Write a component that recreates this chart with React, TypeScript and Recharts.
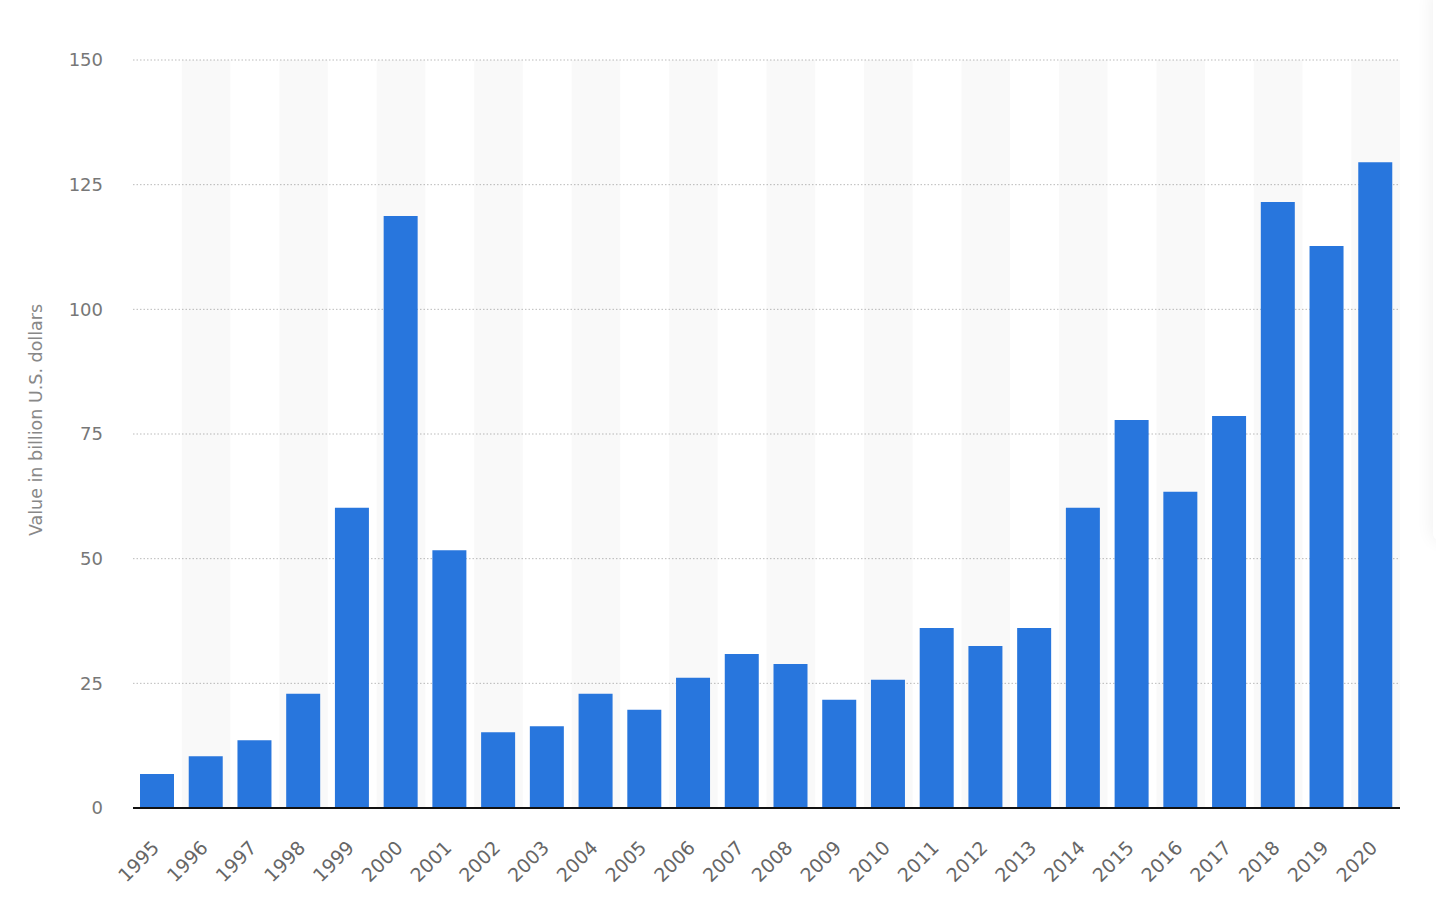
import React from 'react';
import { BarChart, Bar, XAxis, YAxis, CartesianGrid, ReferenceArea } from 'recharts';

const years = ['1995','1996','1997','1998','1999','2000','2001','2002','2003','2004','2005','2006','2007','2008','2009','2010','2011','2012','2013','2014','2015','2016','2017','2018','2019','2020'];
const values = [6.8,10.4,13.6,22.9,60.2,118.7,51.7,15.2,16.4,22.9,19.7,26.1,30.9,28.9,21.7,25.7,36.1,32.5,36.1,60.2,77.8,63.4,78.6,121.5,112.7,129.5];
const yTicks = [0, 25, 50, 75, 100, 125, 150];
const yLabel = 'Value in billion U.S. dollars';

const data = years.map((year, i) => ({ year, value: values[i] }));
const stripeYears = years.filter((_, i) => i % 2 === 1);

const FONT = '"DejaVu Sans", sans-serif';

const XTick = (props: any) => {
  const { x, y, payload } = props;
  return (
    <g transform={`translate(${x + 3},${y + 41})`}>
      <text x={0} y={0} textAnchor="end" transform="rotate(-45)" fill="#666" fontSize={19} fontFamily={FONT}>
        {payload.value}
      </text>
    </g>
  );
};

export default function App() {
  return (
    <div style={{ position: 'absolute', left: 0, top: 0, width: 1436, height: 916, background: '#fff', overflow: 'hidden' }}>
      <BarChart
        width={1437}
        height={916}
        data={data}
        margin={{ top: 60, right: 37, bottom: 0, left: 1 }}
        barSize={34}
      >
        {stripeYears.map((yr) => (
          <ReferenceArea key={yr} x1={yr} x2={yr} fill="#000" fillOpacity={0.022} stroke="none" ifOverflow="hidden" />
        ))}
        <CartesianGrid vertical={false} stroke="#bbb" strokeDasharray="1.5 2" />
        <XAxis
          dataKey="year"
          interval={0}
          height={108}
          tickLine={false}
          tickSize={0}
          tickMargin={0}
          axisLine={{ stroke: '#111', strokeWidth: 2 }}
          tick={<XTick />}
        />
        <YAxis
          width={132}
          domain={[0, 150]}
          ticks={yTicks}
          interval={0}
          axisLine={false}
          tickLine={false}
          tickMargin={24}
          tick={{ fill: '#777', fontSize: 18, fontFamily: FONT }}
          label={{ value: yLabel, angle: -90, position: 'insideLeft', dx: 30, dy: -14, fill: '#888', fontSize: 17.5, fontFamily: FONT, style: { textAnchor: 'middle' } }}
        />
        <Bar dataKey="value" fill="#2876dd" isAnimationActive={false} />
      </BarChart>
      <div style={{ position: 'absolute', left: 1433, top: -10, width: 40, height: 550, background: '#fff', boxShadow: '0 0 18px rgba(0,0,0,0.07)', borderRadius: 6 }} />
    </div>
  );
}
